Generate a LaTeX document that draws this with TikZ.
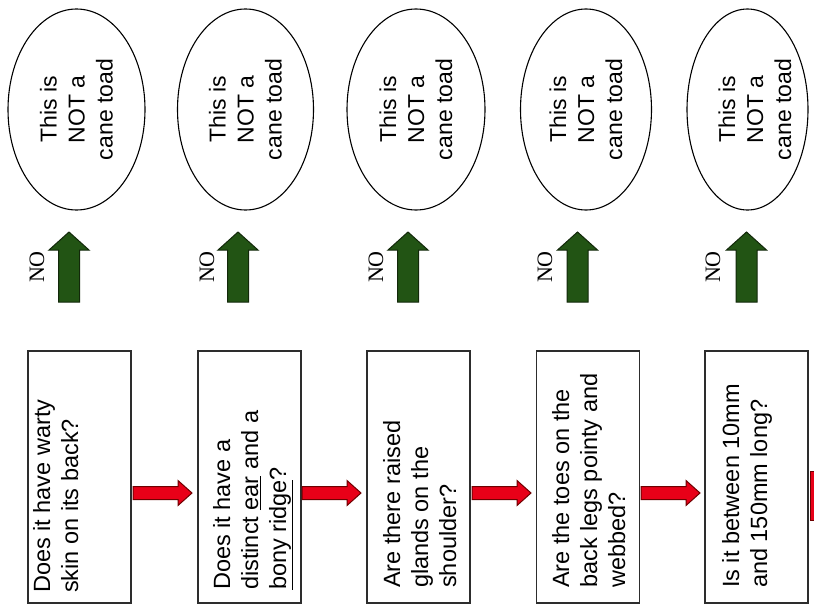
\documentclass[tikz,border=0pt]{standalone}
\usepackage{fontspec}
\setmainfont{Liberation Sans}
\newfontfamily\serifno{Liberation Serif}
\usetikzlibrary{shapes.geometric}
\definecolor{boxline}{RGB}{45,45,45}
\definecolor{redfill}{RGB}{232,0,24}
\definecolor{redline}{RGB}{110,0,0}
\definecolor{greenfill}{RGB}{34,84,20}
\definecolor{greenline}{RGB}{18,40,10}
\begin{document}
\begin{tikzpicture}[x=1pt,y=-1pt,
  qbox/.style={draw=boxline, line width=1.2pt, minimum width=103pt, minimum height=252pt, inner sep=0pt},
  qtext/.style={rotate=90, anchor=north west, align=left, inner sep=0pt, font=\fontsize{23.5}{28}\selectfont},
  nobub/.style={ellipse, draw=black, line width=1.1pt, inner sep=0pt},
  nottext/.style={rotate=90, align=center, inner sep=0pt, font=\fontsize{23}{28}\selectfont},
  nolabel/.style={rotate=90, inner sep=0pt, font=\serifno\fontsize{22}{24}\selectfont},
  redarr/.pic={\filldraw[fill=redfill, draw=redline, line width=1pt, line join=miter]
     (0,-6.5) -- (45,-6.5) -- (45,-12.5) -- (59,0) -- (45,12.5) -- (45,6.5) -- (0,6.5) -- cycle;},
  greenarr/.pic={\filldraw[fill=greenfill, draw=greenline, line width=1pt, line join=miter]
     (-10.5,0) -- (-10.5,-52) -- (-20,-52) -- (0,-70) -- (20,-52) -- (10.5,-52) -- (10.5,0) -- cycle;}
]
\useasboundingbox (0,0) rectangle (814,605);
\fill[white] (0,0) rectangle (814,605);

% question boxes
\node[qbox] (b1) at (79.5,477) {};
\node[qbox] (b2) at (249.5,477) {};
\node[qbox] (b3) at (418.5,477) {};
\node[qbox] (b4) at (588,477) {};
\node[qbox] (b5) at (756.5,477) {};

\node[qtext] (t1) at (33,593) {Does it have warty\\skin on its back?};
\node[qtext] (t2) at (213,590) {Does it have a\\distinct \underline{ear} and a\\\underline{bony ridge}?};
\node[qtext] (t3) at (383,588) {Are there raised\\glands on the\\shoulder?};
\node[qtext] (t4) at (552,588) {Are the toes on the\\back legs pointy and\\webbed?};
\node[qtext] (t5) at (722,588) {Is it between 10mm\\and 150mm long?};

% answer ellipses
\node[nobub, rotate=90, minimum width=201pt, minimum height=137pt] (e1) at (76.5,109.5) {};
\node[nobub, rotate=90, minimum width=201pt, minimum height=136pt] (e2) at (245.5,109.5) {};
\node[nobub, rotate=90, minimum width=201pt, minimum height=138pt] (e3) at (416,109.5) {};
\node[nobub, rotate=90, minimum width=201pt, minimum height=131pt] (e4) at (586,109.5) {};
\node[nobub, rotate=90, minimum width=201pt, minimum height=121pt] (e5) at (747.5,109.5) {};

\node[nottext] (n1) at (e1.center) {This is\\NOT a\\cane toad};
\node[nottext] (n2) at (e2.center) {This is\\NOT a\\cane toad};
\node[nottext] (n3) at (e3.center) {This is\\NOT a\\cane toad};
\node[nottext] (n4) at (e4.center) {This is\\NOT a\\cane toad};
\node[nottext] (n5) at (755,109.5) {This is\\NOT a\\cane toad};

% red block arrows between questions
\pic at (133,493) {redarr};
\pic at (302,493) {redarr};
\pic at (472,493) {redarr};
\pic at (641,493) {redarr};
\filldraw[fill=redfill, draw=redline, line width=1pt] (810.5,471) -- (816,471) -- (816,520) -- (810.5,520) -- cycle;

% green NO arrows
\pic at (69,302) {greenarr};
\pic at (238,302) {greenarr};
\pic at (408,302) {greenarr};
\pic at (577.5,302) {greenarr};
\pic at (746.5,302) {greenarr};

\node[nolabel] (no1) at (37,267) {NO};
\node[nolabel] (no2) at (207,267) {NO};
\node[nolabel] (no3) at (376,267) {NO};
\node[nolabel] (no4) at (545,267) {NO};
\node[nolabel] (no5) at (713,267) {NO};
\end{tikzpicture}
\end{document}
